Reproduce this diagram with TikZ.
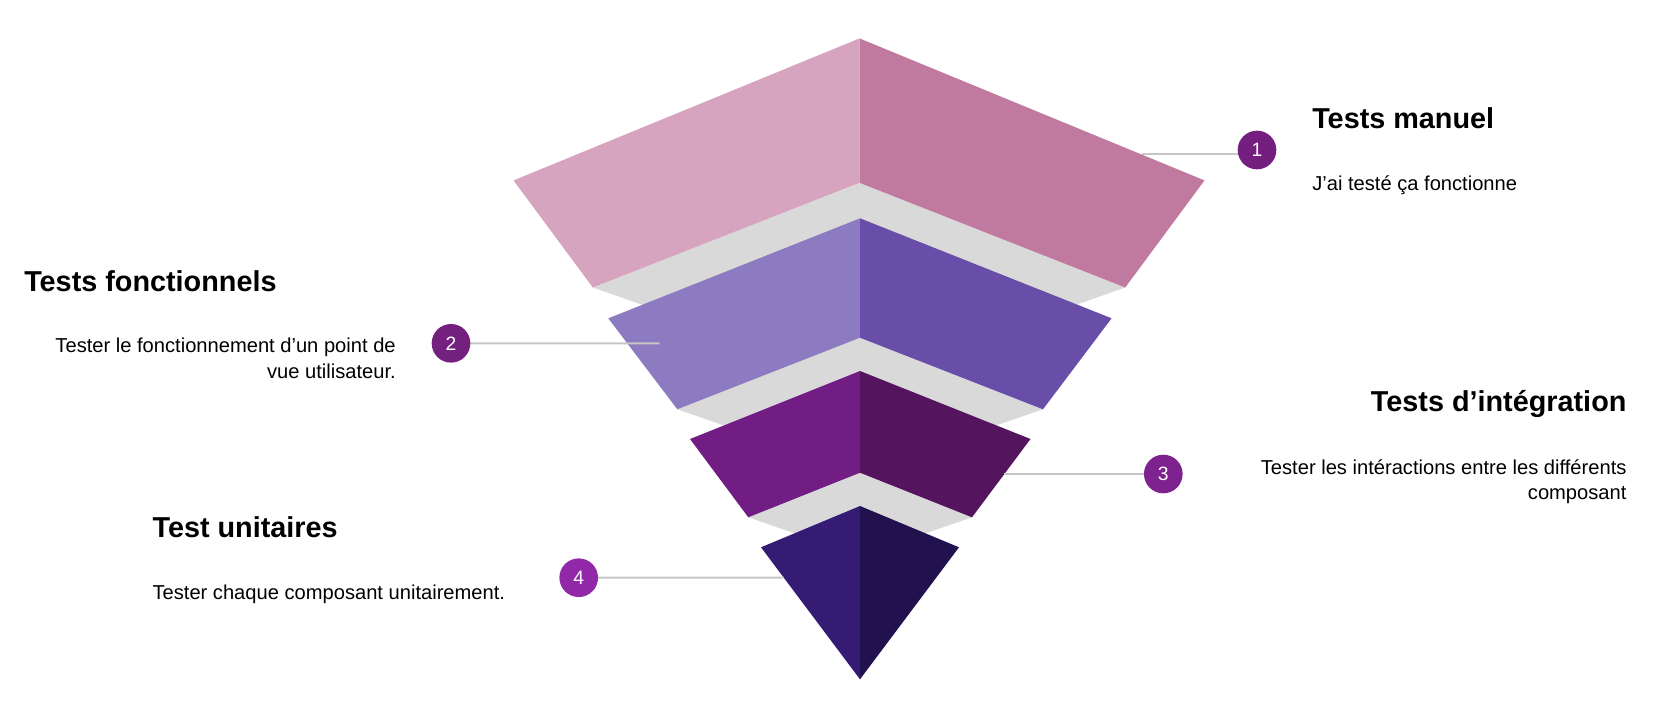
\documentclass[tikz,border=0pt]{standalone}
\usepackage{fontspec}
\setmainfont{Liberation Sans}
\definecolor{lOneL}{HTML}{D6A4BF}
\definecolor{lOneR}{HTML}{C07A9F}
\definecolor{lTwoL}{HTML}{8D7BC1}
\definecolor{lTwoR}{HTML}{684EA8}
\definecolor{lThreeL}{HTML}{721D83}
\definecolor{lThreeR}{HTML}{55155E}
\definecolor{lFourL}{HTML}{351B74}
\definecolor{lFourR}{HTML}{21114E}
\definecolor{bandgray}{HTML}{D9D9D9}
\definecolor{leadgray}{HTML}{C6C6C6}
\definecolor{cOne}{HTML}{741F7F}
\definecolor{cTwo}{HTML}{74207F}
\definecolor{cThree}{HTML}{7E2290}
\definecolor{cFour}{HTML}{9028A8}
\tikzset{
  face/.style={draw=none},
  band/.style={fill=bandgray,draw=none},
  lead/.style={draw=leadgray,line width=1.5pt},
  numdot/.style={circle,draw=none,minimum size=29pt,inner sep=0pt,text=white,font=\fontsize{14.5}{17}\selectfont},
  title/.style={inner sep=0pt,font=\fontsize{21.6}{26}\selectfont\bfseries},
  body/.style={inner sep=0pt,font=\fontsize{15.1}{19}\selectfont},
}
\begin{document}
\begin{tikzpicture}[x=0.75pt,y=-0.75pt]
\useasboundingbox (0,0) rectangle (1674,704);
% layer 1
\coordinate (A1) at (859.5,38.4);
\coordinate (L1o) at (513.5,180.4);
\coordinate (L1b) at (592.8,287.5);
\coordinate (N1) at (859.5,182.8);
\coordinate (R1b) at (1125.2,287.5);
\coordinate (R1o) at (1204.5,180.4);
% layer 2
\coordinate (A2) at (860,218.3);
\coordinate (L2o) at (608.3,318.3);
\coordinate (L2b) at (677.3,409.3);
\coordinate (N2) at (860,337.7);
\coordinate (R2b) at (1043,409.3);
\coordinate (R2o) at (1111.6,318.3);
% layer 3
\coordinate (A3) at (860,371);
\coordinate (L3o) at (690,439);
\coordinate (L3b) at (748.3,517.3);
\coordinate (N3) at (860,472.7);
\coordinate (R3b) at (972,517.3);
\coordinate (R3o) at (1030.5,439);
% layer 4
\coordinate (A4) at (860,506);
\coordinate (L4o) at (761,547.3);
\coordinate (B4) at (860,679.3);
\coordinate (R4o) at (959,547.3);
% band low points
\coordinate (G1) at (860,381);
\coordinate (G2) at (860,472.5);
\coordinate (G3) at (860,556);
% bands
\fill[band] (L1b) -- (N1) -- (R1b) -- (G1) -- cycle;
\fill[band] (L2b) -- (N2) -- (R2b) -- (G2) -- cycle;
\fill[band] (L3b) -- (N3) -- (R3b) -- (G3) -- cycle;
% faces
\fill[face,lOneL] (A1) -- (L1o) -- (L1b) -- (N1) -- cycle;
\fill[face,lOneR] (A1) -- (N1) -- (R1b) -- (R1o) -- cycle;
\fill[face,lTwoL] (A2) -- (L2o) -- (L2b) -- (N2) -- cycle;
\fill[face,lTwoR] (A2) -- (N2) -- (R2b) -- (R2o) -- cycle;
\fill[face,lThreeL] (A3) -- (L3o) -- (L3b) -- (N3) -- cycle;
\fill[face,lThreeR] (A3) -- (N3) -- (R3b) -- (R3o) -- cycle;
\fill[face,lFourL] (A4) -- (L4o) -- (B4) -- cycle;
\fill[face,lFourR] (A4) -- (B4) -- (R4o) -- cycle;
% leader end points
\coordinate (e1) at (1141.5,154);
\coordinate (e2) at (659.3,343.4);
\coordinate (e3) at (1004.4,474);
\coordinate (e4) at (783.7,577.6);
% circles (positions)
\coordinate (p1) at (1257,150);
\coordinate (p2) at (451,343.3);
\coordinate (p3) at (1163.3,474);
\coordinate (p4) at (578.7,577.7);
% leaders
\draw[lead] (e1) -- (e1 -| p1);
\draw[lead] (p2) -- (e2);
\draw[lead] (e3) -- (p3);
\draw[lead] (p4) -- (e4);
% numbered dots
\node[numdot,fill=cOne] (c1) at (p1) {1};
\node[numdot,fill=cTwo] (c2) at (p2) {2};
\node[numdot,fill=cThree] (c3) at (p3) {3};
\node[numdot,fill=cFour] (c4) at (p4) {4};
% texts
\node[title,anchor=base west] (h1) at (1312,128.8) {Tests manuel};
\node[body,anchor=base west] (d1) at (1312,190.7) {J’ai testé ça fonctionne};
\node[title,anchor=base west] (h2) at (24,291.8) {Tests fonctionnels};
\node[body,anchor=base east] (d2a) at (396,352.6) {Tester le fonctionnement d’un point de};
\node[body,anchor=base east] (d2b) at (396,378.4) {vue utilisateur.};
\node[title,anchor=base east] (h3) at (1626.7,411.3) {Tests d’intégration};
\node[body,anchor=base east] (d3a) at (1626.7,474) {Tester les intéractions entre les différents};
\node[body,anchor=base east] (d3b) at (1626.7,499) {composant};
\node[title,anchor=base west] (h4) at (152.3,537.3) {Test unitaires};
\node[body,anchor=base west] (d4) at (152.3,599) {Tester chaque composant unitairement.};
\end{tikzpicture}
\end{document}
